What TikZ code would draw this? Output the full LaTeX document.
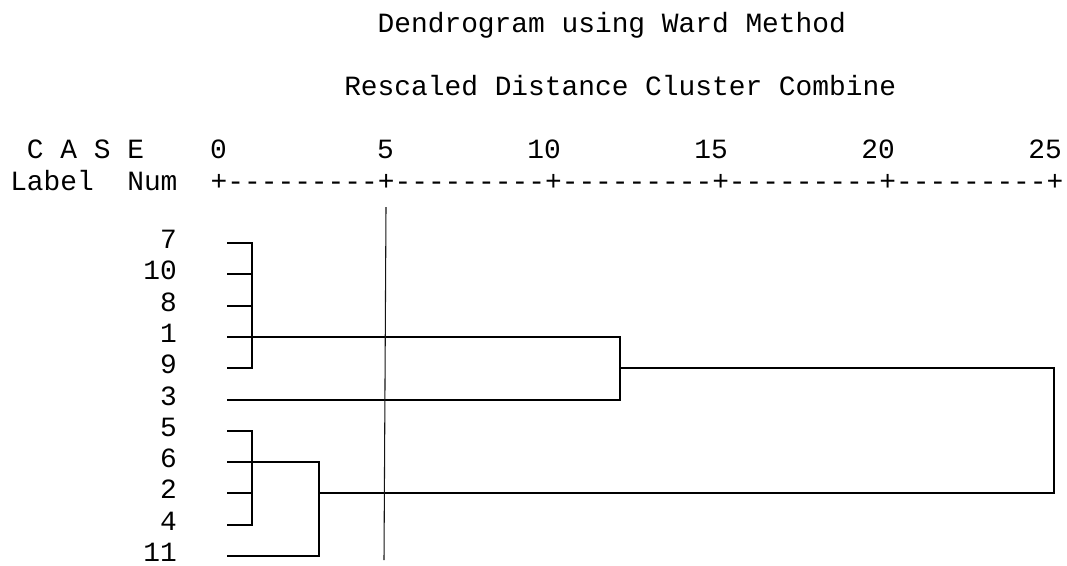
\documentclass[tikz,border=0pt]{standalone}
\usepackage{fontspec}
\setmonofont{Liberation Mono}
\usetikzlibrary{calc}
\definecolor{inkLine}{RGB}{0, 0, 0}
\definecolor{cutLine}{RGB}{20, 20, 20}
\tikzset{
  spssText/.style={
    font=\ttfamily\fontsize{20.9}{24}\selectfont, inner sep=0pt, text=black,
  },
  leafLabel/.style={spssText, anchor=base east},
  scaleNum/.style={spssText, anchor=base east},
  link/.style={draw=inkLine, line width=1.5pt},
  cutMark/.style={draw=cutLine, line width=0.8pt},
}

\begin{document}
\begin{tikzpicture}[x=0.75pt, y=-0.75pt]

\useasboundingbox (0,0) rectangle (1067,565);

% =========================================================================
% headings
% =========================================================================

\node[spssText, anchor=base west] (title) at (377.4, 32)
  {Dendrogram using Ward Method};
\node[spssText, anchor=base west] (subtitle) at (344, 95)
  {Rescaled Distance Cluster Combine};

\node[spssText, anchor=base west] (caseHead) at (26.7, 158) {C A S E};
\node[spssText, anchor=base west] (labelHead) at (10, 190) {Label\ \ Num};

% =========================================================================
% distance scale
% =========================================================================

\foreach \v [count=\k from 0] in {0,5,10,15,20,25}
  \node[scaleNum] (num\v) at (227.1+167*\k, 158) {\v};

\node[spssText, anchor=base west] (axis) at (210.4, 190)
  {+---------+---------+---------+---------+---------+};

% =========================================================================
% leaves
% =========================================================================

\foreach \n [count=\i from 0] in {7,10,8,1,9,3,5,6,2,4,11}{
  \node[leafLabel] (l\n) at (177, 248.5+31.3*\i) {\n};
  \coordinate (s\n) at (227, 243+31.3*\i);
}

\coordinate (xa) at (252, 0);
\coordinate (xb) at (318.5, 0);
\coordinate (xc) at (619.5, 0);
\coordinate (xd) at (1054, 0);

% =========================================================================
% links
% =========================================================================

\draw[link] (s7) -| (xa |- s9) -- (s9);
\foreach \n in {10,8}
  \draw[link] (s\n) -- (s\n -| xa);
\draw[link] (s1) -| (xc |- s3) -- (s3);

\draw[link] (s5) -| (xa |- s4) -- (s4);
\draw[link] (s2) -- (s2 -| xa);
\draw[link] (s6) -| (xb |- s11) -- (s11);

\draw[link] (s9 -| xc) -| (xd |- s2) -- (s2 -| xb);

% =========================================================================
% cut line
% =========================================================================

\coordinate (cutTop) at (386, 207);
\coordinate (cutBot) at (384, 560);
\draw[cutMark] (cutTop) -- (cutBot);

\end{tikzpicture}
\end{document}
